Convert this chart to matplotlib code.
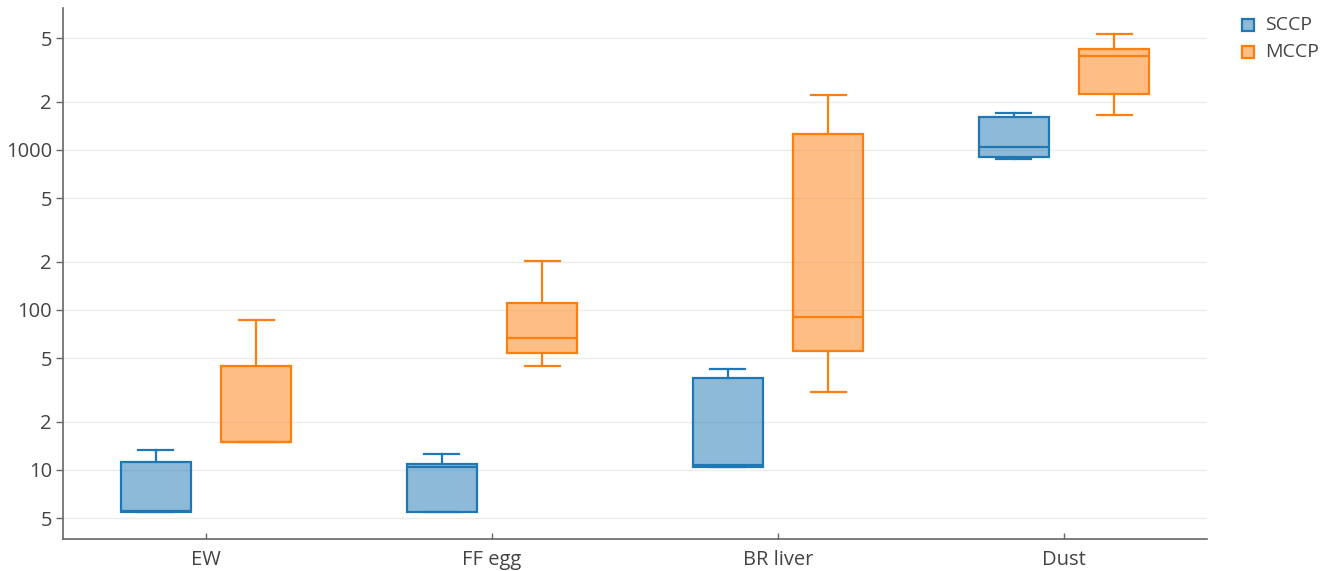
import matplotlib
matplotlib.use("Agg")
import matplotlib.pyplot as plt
from matplotlib.patches import Rectangle
from matplotlib.ticker import FixedLocator, FixedFormatter, NullLocator

plt.rcParams['font.family'] = ['Open Sans', 'DejaVu Sans']

categories = ["EW", "FF egg", "BR liver", "Dust"]
series_names = ["SCCP", "MCCP"]

# five-number summaries: lower whisker, q1, median, q3, upper whisker
sccp_whislo = [5.46, 5.46, 10.5, 875]
sccp_q1 = [5.46, 5.46, 10.5, 908]
sccp_med = [5.57, 10.4, 10.7, 1049]
sccp_q3 = [11.2, 10.9, 37.4, 1614]
sccp_whishi = [13.4, 12.6, 42.6, 1703]

mccp_whislo = [14.9, 44.7, 30.7, 1662]
mccp_q1 = [14.9, 54.1, 55.5, 2230]
mccp_med = [15.0, 67.1, 90.8, 3869]
mccp_q3 = [44.5, 110, 1259, 4276]
mccp_whishi = [86.6, 203, 2207, 5309]

ytick_values = [5, 10, 20, 50, 100, 200, 500, 1000, 2000, 5000]
ytick_labels = ["5", "10", "2", "5", "100", "2", "5", "1000", "2", "5"]

colors = ["#1f77b4", "#ff7f0e"]
fills = [(31/255, 119/255, 180/255, 0.5), (255/255, 127/255, 14/255, 0.5)]

fig = plt.figure(figsize=(13.36, 5.71), dpi=100)
ax = fig.add_axes([63/1336, 1 - 539/571, (1207 - 63)/1336, (539 - 8)/571])

def stats(lo, q1, med, q3, hi):
    return [dict(whislo=a, q1=b, med=c, q3=d, whishi=e, fliers=[])
            for a, b, c, d, e in zip(lo, q1, med, q3, hi)]

all_stats = [
    stats(sccp_whislo, sccp_q1, sccp_med, sccp_q3, sccp_whishi),
    stats(mccp_whislo, mccp_q1, mccp_med, mccp_q3, mccp_whishi),
]
offsets = [-0.175, 0.175]
box_w = 0.245

for k in range(2):
    pos = [i + offsets[k] for i in range(len(categories))]
    c = colors[k]
    ax.bxp(all_stats[k], positions=pos, widths=box_w, patch_artist=True,
           showfliers=False,
           boxprops=dict(facecolor=fills[k], edgecolor=c, linewidth=1.6),
           medianprops=dict(color=c, linewidth=1.6),
           whiskerprops=dict(color=c, linewidth=1.6),
           capprops=dict(color=c, linewidth=1.6),
           capwidths=box_w / 2, zorder=3)

ax.set_yscale("log")
ax.set_ylim(3.70, 7720)
ax.set_xlim(-0.5, len(categories) - 0.5)
ax.yaxis.set_major_locator(FixedLocator(ytick_values))
ax.yaxis.set_major_formatter(FixedFormatter(ytick_labels))
ax.yaxis.set_minor_locator(NullLocator())
ax.set_xticks(range(len(categories)))
ax.set_xticklabels(categories)

ax.grid(axis="y", color="#ececec", linewidth=1.0, zorder=0)
ax.set_axisbelow(True)
for s in ["top", "right"]:
    ax.spines[s].set_visible(False)
for s in ["left", "bottom"]:
    ax.spines[s].set_color("#666666")
    ax.spines[s].set_linewidth(1.2)

ax.tick_params(axis="y", direction="out", length=5, width=1, color="#666666",
               labelsize=14.5, labelcolor="#444444", pad=3)
ax.tick_params(axis="x", direction="in", length=4, width=1, color="#666666",
               labelsize=14.5, labelcolor="#444444", pad=8)

# legend
leg_y = [25, 52]
for k, name in enumerate(series_names):
    yc = 1 - leg_y[k] / 571
    fig.patches.append(Rectangle((1242/1336, yc - 6/571), 12/1336, 12/571,
                                 transform=fig.transFigure, facecolor=fills[k],
                                 edgecolor=colors[k], linewidth=1.6))
    fig.text(1265/1336, yc, name, fontsize=14, color="#444444",
             va="center", ha="left")

fig.savefig("out.png", dpi=100, facecolor="white")
